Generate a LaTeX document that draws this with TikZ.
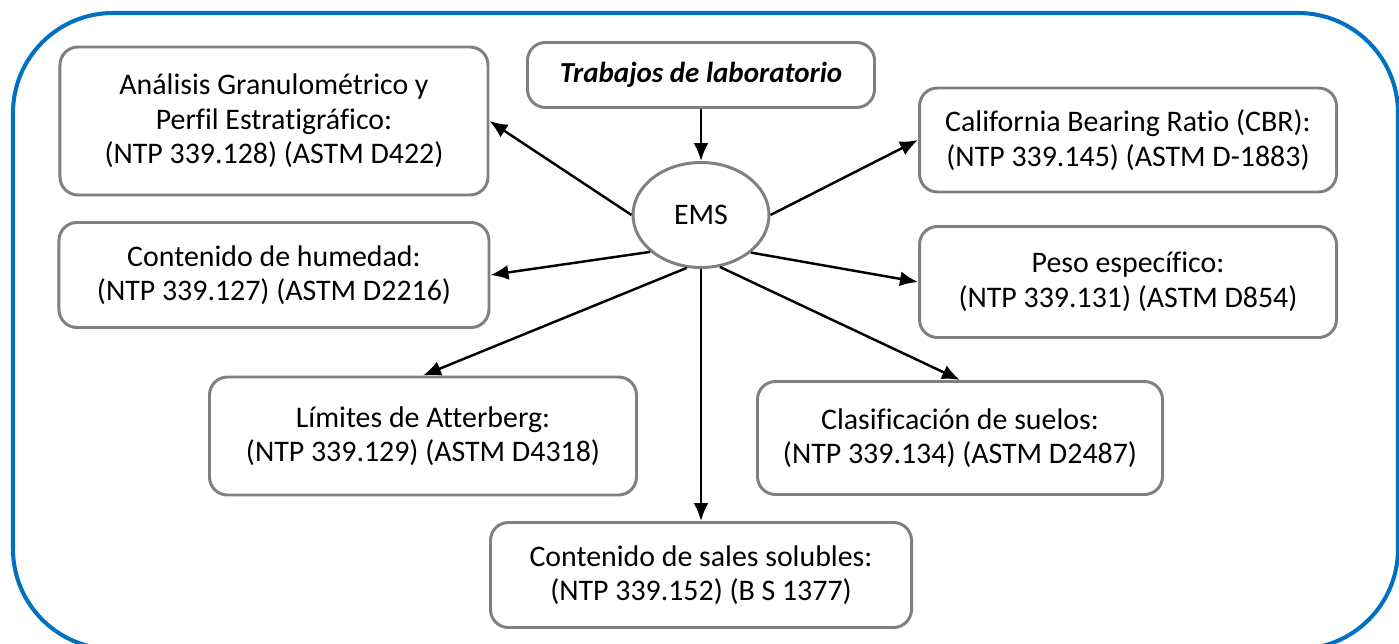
\documentclass[tikz,border=0pt]{standalone}
\usepackage{fontspec}
\setmainfont{Carlito}[Ligatures=NoCommon]
\usetikzlibrary{arrows.meta,shapes.geometric}
\definecolor{boxgray}{RGB}{128,128,128}
\definecolor{frameblue}{RGB}{0,112,192}
\newcommand{\diagfont}{\fontsize{17}{19.6}\selectfont}

\begin{document}
\begin{tikzpicture}[node distance=3cm, auto,
    box/.style={rectangle, rounded corners=0.36cm, draw=boxgray, line width=1.7pt, fill=white, align=center, inner sep=0pt, font=\diagfont},
    arrow/.style={-{Latex[length=0.36cm,width=0.3cm]}, line width=1.4pt}]

    \useasboundingbox (-14.02,4.30) rectangle (13.96,-8.58);

    % outer frame
    \draw[frameblue, line width=2.3pt, rounded corners=2cm] (-13.76,4.04) rectangle (13.94,-8.68);

    % centre and title
    \node (ems) [ellipse, draw=boxgray, line width=1.7pt, minimum width=2.72cm, minimum height=2.1cm, inner sep=0pt, font=\diagfont] {EMS};
    \node (trabajos) [box, above of=ems, yshift=-0.2cm, minimum width=6.94cm, minimum height=1.3cm, font=\fontsize{16.5}{19.5}\selectfont\bfseries\itshape] {Trabajos de laboratorio};

    % left side
    \node (analisis) [box, left of=ems, xshift=-5.54cm, yshift=1.88cm, minimum width=8.56cm, minimum height=2.96cm] {An\'alisis Granulom\'etrico y\\Perfil Estratigr\'afico:\\(NTP 339.128) (ASTM D422)};
    \node (humedad) [box, below of=analisis, yshift=-0.08cm, minimum width=8.6cm, minimum height=2.1cm] {Contenido de humedad:\\(NTP 339.127) (ASTM D2216)};
    \node (limites) [box, left of=ems, xshift=-2.56cm, yshift=-4.42cm, minimum width=8.54cm, minimum height=2.36cm] {L\'imites de Atterberg:\\(NTP 339.129) (ASTM D4318)};

    % right side
    \node (cbr) [box, right of=ems, xshift=5.54cm, yshift=1.5cm, minimum width=8.34cm, minimum height=2.08cm] {California Bearing Ratio (CBR):\\(NTP 339.145) (ASTM D-1883)};
    \node (peso) [box, below of=cbr, yshift=0.16cm, minimum width=8.34cm, minimum height=2.22cm] {Peso espec\'ifico:\\(NTP 339.131) (ASTM D854)};
    \node (clasif) [box, right of=ems, xshift=2.18cm, yshift=-4.46cm, minimum width=8.1cm, minimum height=2.26cm] {Clasificaci\'on de suelos:\\(NTP 339.134) (ASTM D2487)};

    % bottom
    \node (sales) [box, below of=ems, yshift=-4.2cm, minimum width=8.42cm, minimum height=2.1cm] {Contenido de sales solubles:\\(NTP 339.152) (B S 1377)};

    % Arrows from EMS
    \draw[arrow] (trabajos) -- (ems);
    \draw[arrow] (ems.west) -- (analisis.east);
    \draw[arrow] (ems.216) -- (humedad.east);
    \draw[arrow] (ems.east) -- (cbr.west);
    \draw[arrow] (ems.323) -- (peso.west);
    \draw[arrow] (ems.255) -- (limites.north);
    \draw[arrow] (ems.290) -- (clasif.north);
    \draw[arrow] (ems) -- (sales);

\end{tikzpicture}
\end{document}
